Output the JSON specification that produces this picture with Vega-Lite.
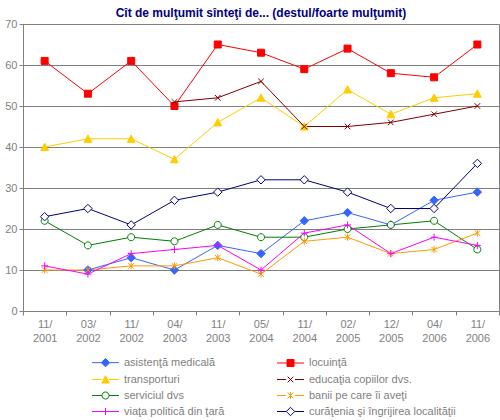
{
  "$schema": "https://vega.github.io/schema/vega-lite/v6.json",
  "autosize": "none",
  "width": 476,
  "height": 287,
  "padding": {"left": 23, "top": 24, "right": 1, "bottom": 109},
  "title": {
    "text": "Cît de mulţumit sînteţi de... (destul/foarte mulţumit)",
    "font": "Liberation Sans",
    "fontSize": 12,
    "fontWeight": "bold",
    "color": "#000080",
    "offset": -2,
    "anchor": "middle"
  },
  "data": {
    "values": [
      {"d": "03/2002", "s": "asistenţă medicală", "v": 10},
      {"d": "11/2002", "s": "asistenţă medicală", "v": 13},
      {"d": "04/2003", "s": "asistenţă medicală", "v": 10},
      {"d": "11/2003", "s": "asistenţă medicală", "v": 16},
      {"d": "05/2004", "s": "asistenţă medicală", "v": 14},
      {"d": "11/2004", "s": "asistenţă medicală", "v": 22},
      {"d": "02/2005", "s": "asistenţă medicală", "v": 24},
      {"d": "12/2005", "s": "asistenţă medicală", "v": 21},
      {"d": "04/2006", "s": "asistenţă medicală", "v": 27},
      {"d": "11/2006", "s": "asistenţă medicală", "v": 29},

      {"d": "11/2001", "s": "locuinţă", "v": 61},
      {"d": "03/2002", "s": "locuinţă", "v": 53},
      {"d": "11/2002", "s": "locuinţă", "v": 61},
      {"d": "04/2003", "s": "locuinţă", "v": 50},
      {"d": "11/2003", "s": "locuinţă", "v": 65},
      {"d": "05/2004", "s": "locuinţă", "v": 63},
      {"d": "11/2004", "s": "locuinţă", "v": 59},
      {"d": "02/2005", "s": "locuinţă", "v": 64},
      {"d": "12/2005", "s": "locuinţă", "v": 58},
      {"d": "04/2006", "s": "locuinţă", "v": 57},
      {"d": "11/2006", "s": "locuinţă", "v": 65},

      {"d": "11/2001", "s": "transporturi", "v": 40},
      {"d": "03/2002", "s": "transporturi", "v": 42},
      {"d": "11/2002", "s": "transporturi", "v": 42},
      {"d": "04/2003", "s": "transporturi", "v": 37},
      {"d": "11/2003", "s": "transporturi", "v": 46},
      {"d": "05/2004", "s": "transporturi", "v": 52},
      {"d": "11/2004", "s": "transporturi", "v": 45},
      {"d": "02/2005", "s": "transporturi", "v": 54},
      {"d": "12/2005", "s": "transporturi", "v": 48},
      {"d": "04/2006", "s": "transporturi", "v": 52},
      {"d": "11/2006", "s": "transporturi", "v": 53},

      {"d": "04/2003", "s": "educaţia copiilor dvs.", "v": 51},
      {"d": "11/2003", "s": "educaţia copiilor dvs.", "v": 52},
      {"d": "05/2004", "s": "educaţia copiilor dvs.", "v": 56},
      {"d": "11/2004", "s": "educaţia copiilor dvs.", "v": 45},
      {"d": "02/2005", "s": "educaţia copiilor dvs.", "v": 45},
      {"d": "12/2005", "s": "educaţia copiilor dvs.", "v": 46},
      {"d": "04/2006", "s": "educaţia copiilor dvs.", "v": 48},
      {"d": "11/2006", "s": "educaţia copiilor dvs.", "v": 50},

      {"d": "11/2001", "s": "serviciul dvs", "v": 22},
      {"d": "03/2002", "s": "serviciul dvs", "v": 16},
      {"d": "11/2002", "s": "serviciul dvs", "v": 18},
      {"d": "04/2003", "s": "serviciul dvs", "v": 17},
      {"d": "11/2003", "s": "serviciul dvs", "v": 21},
      {"d": "05/2004", "s": "serviciul dvs", "v": 18},
      {"d": "11/2004", "s": "serviciul dvs", "v": 18},
      {"d": "02/2005", "s": "serviciul dvs", "v": 20},
      {"d": "12/2005", "s": "serviciul dvs", "v": 21},
      {"d": "04/2006", "s": "serviciul dvs", "v": 22},
      {"d": "11/2006", "s": "serviciul dvs", "v": 15},

      {"d": "11/2001", "s": "banii pe care îi aveţi", "v": 10},
      {"d": "03/2002", "s": "banii pe care îi aveţi", "v": 10},
      {"d": "11/2002", "s": "banii pe care îi aveţi", "v": 11},
      {"d": "04/2003", "s": "banii pe care îi aveţi", "v": 11},
      {"d": "11/2003", "s": "banii pe care îi aveţi", "v": 13},
      {"d": "05/2004", "s": "banii pe care îi aveţi", "v": 9},
      {"d": "11/2004", "s": "banii pe care îi aveţi", "v": 17},
      {"d": "02/2005", "s": "banii pe care îi aveţi", "v": 18},
      {"d": "12/2005", "s": "banii pe care îi aveţi", "v": 14},
      {"d": "04/2006", "s": "banii pe care îi aveţi", "v": 15},
      {"d": "11/2006", "s": "banii pe care îi aveţi", "v": 19},

      {"d": "11/2001", "s": "viaţa politică din ţară", "v": 11},
      {"d": "03/2002", "s": "viaţa politică din ţară", "v": 9},
      {"d": "11/2002", "s": "viaţa politică din ţară", "v": 14},
      {"d": "04/2003", "s": "viaţa politică din ţară", "v": 15},
      {"d": "11/2003", "s": "viaţa politică din ţară", "v": 16},
      {"d": "05/2004", "s": "viaţa politică din ţară", "v": 10},
      {"d": "11/2004", "s": "viaţa politică din ţară", "v": 19},
      {"d": "02/2005", "s": "viaţa politică din ţară", "v": 21},
      {"d": "12/2005", "s": "viaţa politică din ţară", "v": 14},
      {"d": "04/2006", "s": "viaţa politică din ţară", "v": 18},
      {"d": "11/2006", "s": "viaţa politică din ţară", "v": 16},

      {"d": "11/2001", "s": "curăţenia şi îngrijirea localităţii", "v": 23},
      {"d": "03/2002", "s": "curăţenia şi îngrijirea localităţii", "v": 25},
      {"d": "11/2002", "s": "curăţenia şi îngrijirea localităţii", "v": 21},
      {"d": "04/2003", "s": "curăţenia şi îngrijirea localităţii", "v": 27},
      {"d": "11/2003", "s": "curăţenia şi îngrijirea localităţii", "v": 29},
      {"d": "05/2004", "s": "curăţenia şi îngrijirea localităţii", "v": 32},
      {"d": "11/2004", "s": "curăţenia şi îngrijirea localităţii", "v": 32},
      {"d": "02/2005", "s": "curăţenia şi îngrijirea localităţii", "v": 29},
      {"d": "12/2005", "s": "curăţenia şi îngrijirea localităţii", "v": 25},
      {"d": "04/2006", "s": "curăţenia şi îngrijirea localităţii", "v": 25},
      {"d": "11/2006", "s": "curăţenia şi îngrijirea localităţii", "v": 36}
    ]
  },
  "encoding": {
    "x": {
      "field": "d",
      "type": "ordinal",
      "bandPosition": 0.5,
      "sort": ["11/2001", "03/2002", "11/2002", "04/2003", "11/2003", "05/2004", "11/2004", "02/2005", "12/2005", "04/2006", "11/2006"],
      "scale": {"type": "band", "paddingInner": 0, "paddingOuter": 0},
      "title": null,
      "axis": {
        "labelAngle": 0,
        "tickBand": "extent",
        "tickSize": 4,
        "labelPadding": 3,
        "labelLineHeight": 14,
        "labelExpr": "[slice(datum.label, 0, 3), slice(datum.label, 3)]"
      }
    },
    "y": {
      "field": "v",
      "type": "quantitative",
      "title": null,
      "scale": {"domain": [0, 70], "nice": false},
      "axis": {"values": [0, 10, 20, 30, 40, 50, 60, 70], "grid": true, "tickSize": 4, "labelPadding": 2}
    }
  },
  "layer": [
    {
      "mark": {"type": "line", "strokeWidth": 1},
      "encoding": {
        "color": {
          "field": "s",
          "type": "nominal",
          "scale": {
            "domain": ["asistenţă medicală", "locuinţă", "transporturi", "educaţia copiilor dvs.", "serviciul dvs", "banii pe care îi aveţi", "viaţa politică din ţară", "curăţenia şi îngrijirea localităţii"],
            "range": ["#3366FF", "#FF0000", "#FFCC00", "#800000", "#008000", "#FF9900", "#FF00FF", "#000080"]
          },
          "legend": {
            "title": null,
            "orient": "none",
            "direction": "horizontal",
            "legendX": 77,
            "legendY": 333,
            "columns": 2,
            "symbolSize": 49,
            "symbolStrokeWidth": 1,
            "labelOffset": 13,
            "columnPadding": 50,
            "rowPadding": 4,
            "labelFont": "Liberation Sans",
            "labelFontSize": 11,
            "labelColor": "#7f7f7f",
            "encode": {
              "symbols": {
                "update": {
                  "shape": {"signal": "{'asistenţă medicală': 'M-3.85,0L-1.2,0M1.2,0L3.85,0M0,-1.2L1.2,0L0,1.2L-1.2,0Z', 'locuinţă': 'M-3.85,0L-1,0M1,0L3.85,0M-1,-1L1,-1L1,1L-1,1Z', 'transporturi': 'M-3.85,0L-1,0M1,0L3.85,0M0,-1.1L1.1,1L-1.1,1Z', 'educaţia copiilor dvs.': 'M-3.85,0L-1.3,0M1.3,0L3.85,0M-0.8,-0.8L0.8,0.8M-0.8,0.8L0.8,-0.8', 'serviciul dvs': 'M-3.85,0L-1,0M1,0L3.85,0M1,0A1,1,0,1,1,-1,0A1,1,0,1,1,1,0Z', 'banii pe care îi aveţi': 'M-3.85,0L-1.3,0M1.3,0L3.85,0M-0.8,-0.8L0.8,0.8M-0.8,0.8L0.8,-0.8M0,-1L0,1', 'viaţa politică din ţară': 'M-3.85,0L3.85,0M0,-1L0,1', 'curăţenia şi îngrijirea localităţii': 'M-3.85,0L-1.2,0M1.2,0L3.85,0M0,-1.2L1.2,0L0,1.2L-1.2,0Z'}[datum.value]"},
                  "fill": {"signal": "{'asistenţă medicală': '#3366FF', 'locuinţă': '#FF0000', 'transporturi': '#FFCC00', 'serviciul dvs': 'white', 'curăţenia şi îngrijirea localităţii': 'white'}[datum.value] || 'transparent'"},
                  "stroke": {"scale": "color", "field": "value"}
                }
              }
            }
          }
        }
      }
    },
    {
      "mark": {"type": "point", "size": 49, "strokeWidth": 1, "opacity": 1},
      "encoding": {
        "stroke": {
          "field": "s",
          "type": "nominal",
          "legend": null,
          "scale": {
            "domain": ["asistenţă medicală", "banii pe care îi aveţi", "curăţenia şi îngrijirea localităţii", "educaţia copiilor dvs.", "locuinţă", "serviciul dvs", "transporturi", "viaţa politică din ţară"],
            "range": ["#3366FF", "#FF9900", "#000080", "#800000", "#FF0000", "#008000", "#FFCC00", "#FF00FF"]
          }
        },
        "fill": {
          "field": "s",
          "type": "nominal",
          "legend": null,
          "scale": {
            "domain": ["asistenţă medicală", "banii pe care îi aveţi", "curăţenia şi îngrijirea localităţii", "educaţia copiilor dvs.", "locuinţă", "serviciul dvs", "transporturi", "viaţa politică din ţară"],
            "range": ["#3366FF", "transparent", "white", "transparent", "#FF0000", "white", "#FFCC00", "transparent"]
          }
        },
        "shape": {
          "field": "s",
          "type": "nominal",
          "legend": null,
          "scale": {
            "domain": ["asistenţă medicală", "banii pe care îi aveţi", "curăţenia şi îngrijirea localităţii", "educaţia copiilor dvs.", "locuinţă", "serviciul dvs", "transporturi", "viaţa politică din ţară"],
            "range": [
              "M0,-1.2L1.2,0L0,1.2L-1.2,0Z",
              "M-0.8,-0.8L0.8,0.8M-0.8,0.8L0.8,-0.8M0,-1L0,1",
              "M0,-1.2L1.2,0L0,1.2L-1.2,0Z",
              "M-0.8,-0.8L0.8,0.8M-0.8,0.8L0.8,-0.8",
              "M-1,-1L1,-1L1,1L-1,1Z",
              "M1,0A1,1,0,1,1,-1,0A1,1,0,1,1,1,0Z",
              "M0,-1.1L1.1,1L-1.1,1Z",
              "M-1,0L1,0M0,-1L0,1"
            ]
          }
        }
      }
    }
  ],
  "config": {
    "view": {"stroke": "#808080", "strokeWidth": 1},
    "axis": {
      "domainColor": "#808080",
      "tickColor": "#808080",
      "gridColor": "#808080",
      "labelColor": "#7f7f7f",
      "labelFont": "Liberation Sans",
      "labelFontSize": 11
    }
  }
}
